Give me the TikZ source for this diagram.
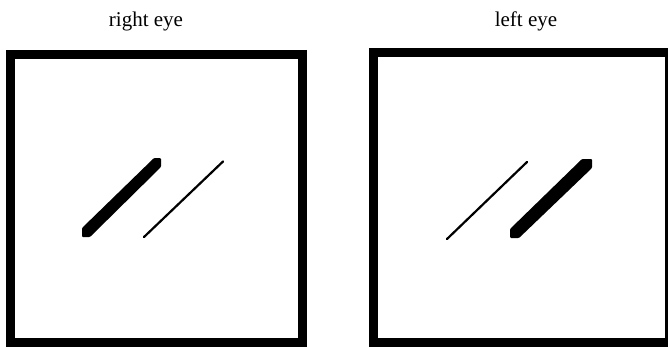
\documentclass[tikz,border=0pt]{standalone}
\usepackage{fontspec}
\setmainfont{Liberation Serif}
\begin{document}
\begin{tikzpicture}[x=1pt,y=-1pt,
  frame/.style={draw=black,line width=9pt},
  thickbar/.style={fill=black,rounded corners=1pt},
  thinbar/.style={draw=black,line width=2.2pt,line cap=round},
  caption/.style={font=\fontsize{21}{23}\selectfont,anchor=base,inner sep=0pt}]
\useasboundingbox (0,0) rectangle (668,346);
\clip (0,0) rectangle (668,346);
% captions
\node[caption] (rlabel) at (146,26) {right eye};
\node[caption] (llabel) at (526,26) {left eye};
% frames
\draw[frame] (10.5,54) rectangle (302.5,342.5);
\draw[frame] (373.5,52.5) rectangle (669,342);
% right-eye view
\fill[thickbar] (82,228) -- (154,158) -- (161,158) -- (161,167) -- (90,237) -- (82,237) -- cycle;
\draw[thinbar] (144,237) -- (223,161.5);
% left-eye view
\draw[thinbar] (447,239) -- (527,162);
\fill[thickbar] (510,229) -- (582,159) -- (592,159) -- (592,168) -- (519,238) -- (510,238) -- cycle;
\end{tikzpicture}
\end{document}
